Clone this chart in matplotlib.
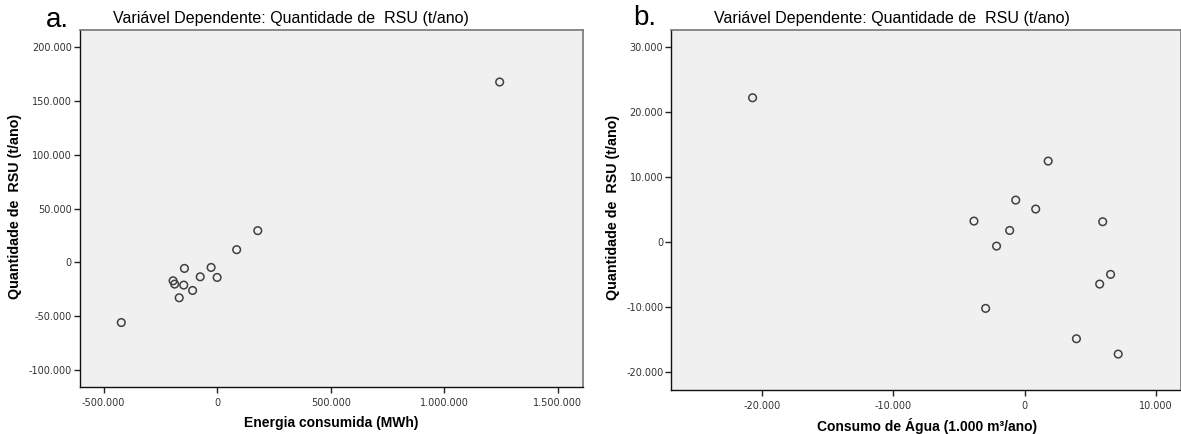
import matplotlib
matplotlib.use("Agg")
import matplotlib.pyplot as plt
from matplotlib.ticker import FuncFormatter, FixedLocator

plt.rcParams['font.family'] = ['Liberation Sans', 'DejaVu Sans']

# Panel a: Energia consumida (MWh) vs Quantidade de RSU (t/ano)
energia_x = [-422000, 179000, 86000, -144000, -26500, -74500, 0, -194000,
             -187000, -147000, -108000, -167000, 1244000]
rsu_a_y = [-55900, 29500, 11800, -5600, -4700, -13400, -14000, -17100,
           -20200, -21100, -26100, -32900, 167600]

# Panel b: Consumo de Água (1.000 m³/ano) vs Quantidade de RSU (t/ano)
agua_x = [-20720, 1780, -690, 830, -3870, 5930, -1150, -2150, 6530, 5700,
          -2980, 3930, 7110]
rsu_b_y = [22200, 12460, 6460, 5080, 3230, 3130, 1790, -620, -4970, -6460,
           -10200, -14870, -17230]

a_xticks = [-500000, 0, 500000, 1000000, 1500000]
a_yticks = [-100000, -50000, 0, 50000, 100000, 150000, 200000]
b_xticks = [-20000, -10000, 0, 10000]
b_yticks = [-20000, -10000, 0, 10000, 20000, 30000]

title_text = "Variável Dependente: Quantidade de  RSU (t/ano)"
ylabel_text = "Quantidade de  RSU (t/ano)"


def fmt(v, pos=None):
    v = int(round(v))
    if v == 0:
        return "0"
    s = f"{abs(v):,}".replace(",", ".")
    return ("-" if v < 0 else "") + s


W, H = 1181, 434
fig = plt.figure(figsize=(W / 100, H / 100), dpi=100)
fig.patch.set_facecolor("white")


def px_axes(l, t, r, b):
    return fig.add_axes([l / W, 1 - b / H, (r - l) / W, (b - t) / H])


def style(ax, xt, yt):
    ax.set_facecolor("#f0f0f0")
    ax.xaxis.set_major_locator(FixedLocator(xt))
    ax.yaxis.set_major_locator(FixedLocator(yt))
    ax.xaxis.set_major_formatter(FuncFormatter(fmt))
    ax.yaxis.set_major_formatter(FuncFormatter(fmt))
    ax.tick_params(axis="both", direction="out", length=4, width=1,
                   labelsize=7, labelcolor="#333333", color="#222222")
    ax.tick_params(axis="x", pad=4)
    ax.tick_params(axis="y", pad=1.5)
    for lab in ax.get_xticklabels() + ax.get_yticklabels():
        lab.set_family("DejaVu Sans")
    for s in ("left", "bottom"):
        ax.spines[s].set_color("#111111")
        ax.spines[s].set_linewidth(1.0)
    for s in ("top", "right"):
        ax.spines[s].set_color("#777777")
        ax.spines[s].set_linewidth(1.2)


# Panel a
ax1 = px_axes(79.5, 29.5, 583, 387)
ax1.scatter(energia_x, rsu_a_y, s=30, facecolors="none", edgecolors="#404040",
            linewidths=1.1, zorder=3)
ax1.set_xlim(-606000, 1611000)
ax1.set_ylim(-115800, 216400)
style(ax1, a_xticks, a_yticks)

# Panel b
ax2 = px_axes(671, 29.5, 1181, 390.3)
ax2.scatter(agua_x, rsu_b_y, s=30, facecolors="none", edgecolors="#404040",
            linewidths=1.1, zorder=3)
ax2.set_xlim(-26930, 11890)
ax2.set_ylim(-22800, 32700)
style(ax2, b_xticks, b_yticks)

# Texts
fig.text(291 / W, 1 - 18 / H, title_text, ha="center", va="center", fontsize=11.5)
fig.text(891.5 / W, 1 - 18 / H, title_text, ha="center", va="center", fontsize=11.5)
fig.text(57 / W, 1 - 20 / H, "a.", ha="center", va="center", fontsize=20)
fig.text(645 / W, 1 - 18 / H, "b.", ha="center", va="center", fontsize=20)
fig.text(331 / W, 1 - 423 / H, "Energia consumida (MWh)", ha="center", va="center",
         fontsize=10, fontweight="bold")
fig.text(927 / W, 1 - 426 / H, "Consumo de Água (1.000 m³/ano)", ha="center",
         va="center", fontsize=10, fontweight="bold")
fig.text(15 / W, 1 - 206 / H, ylabel_text, ha="center", va="center", rotation=90,
         fontsize=10.3, fontweight="bold")
fig.text(613 / W, 1 - 207 / H, ylabel_text, ha="center", va="center", rotation=90,
         fontsize=10.3, fontweight="bold")

fig.savefig("out.png", dpi=100)
